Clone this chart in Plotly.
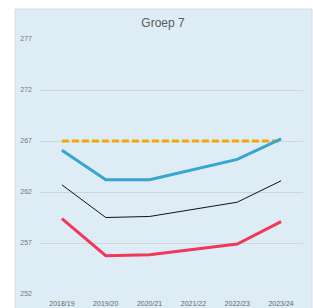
import plotly.graph_objects as go

years = ["2018/19", "2019/20", "2020/21", "2021/22", "2022/23", "2023/24"]
blue_vals = [266.1, 263.2, 263.2, 264.2, 265.2, 267.2]
black_vals = [262.7, 259.5, 259.6, 260.3, 261.0, 263.1]
red_vals = [259.4, 255.75, 255.85, 256.4, 256.9, 259.1]
target_vals = [267, 267, 267, 267, 267, 267]
y_ticks = [252, 257, 262, 267, 272, 277]

fig = go.Figure()
fig.add_trace(go.Scatter(x=years, y=target_vals, mode="lines",
                         line=dict(color="#f5a800", width=3, dash="7px,3px"), showlegend=False))
fig.add_trace(go.Scatter(x=years, y=blue_vals, mode="lines",
                         line=dict(color="#37a5cf", width=3), showlegend=False))
fig.add_trace(go.Scatter(x=years, y=black_vals, mode="lines",
                         line=dict(color="#111111", width=1), showlegend=False))
fig.add_trace(go.Scatter(x=years, y=red_vals, mode="lines",
                         line=dict(color="#f2385a", width=3), showlegend=False))

L, R, T, B = 40, 10, 39, 14
W, H = 313, 308
pw, ph = W - L - R, H - T - B
def px_x(p):
    return (p - L) / pw
def px_y(p):
    return (H - B - p) / ph

fig.add_shape(type="rect", xref="paper", yref="paper",
              x0=px_x(15), x1=px_x(312), y0=px_y(330), y1=px_y(9),
              fillcolor="#deedf5", line=dict(color="#d6dde1", width=1), layer="below")

fig.update_layout(
    width=W, height=H,
    margin=dict(l=L, r=R, t=T, b=B, autoexpand=False),
    paper_bgcolor="white", plot_bgcolor="rgba(0,0,0,0)",
    title=dict(text="Groep 7", x=163 / W, xanchor="center", y=1 - 23 / H, yanchor="middle",
               font=dict(family="Helvetica, Arial, Liberation Sans, sans-serif", size=12, color="#5a5a5a")),
    font=dict(family="Helvetica, Arial, Liberation Sans, sans-serif", color="#666666", size=7),
    xaxis=dict(range=[-0.5, 5.5], showgrid=False, zeroline=False, showline=False, ticks="",
               automargin=False, ticklabelstandoff=4, tickfont=dict(size=7, color="#666666")),
    yaxis=dict(range=[252, 277], tickvals=y_ticks, showgrid=True, gridcolor="#cfd6da",
               gridwidth=1, zeroline=False, showline=False, ticks="", automargin=False,
               ticklabelstandoff=7, tickfont=dict(size=7, color="#777777")),
)
fig.write_html("out.html", config={"displayModeBar": False},
               post_script="document.body.style.margin='0';document.body.style.overflow='hidden';")
